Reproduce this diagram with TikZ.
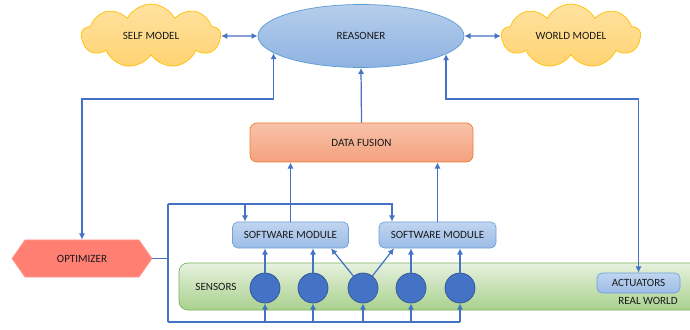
\documentclass[tikz,border=0pt]{standalone}
\usepackage{fontspec}
\setmainfont{Carlito}
\definecolor{lnblue}{HTML}{4472C4}
\definecolor{circedge}{HTML}{2F5597}
\definecolor{cloudedge}{HTML}{FFC000}
\definecolor{cloudtop}{HTML}{FFE2A0}
\definecolor{cloudbot}{HTML}{FFD372}
\definecolor{reastop}{HTML}{B6CEEB}
\definecolor{reasbot}{HTML}{8EB3E2}
\definecolor{reasedge}{HTML}{5B9BD5}
\definecolor{fustop}{HTML}{F8C2AA}
\definecolor{fusbot}{HTML}{F4A17E}
\definecolor{fusedge}{HTML}{ED7D31}
\definecolor{optfill}{HTML}{FF7F73}
\definecolor{optedge}{HTML}{FF9A90}
\definecolor{smtop}{HTML}{C0D5F0}
\definecolor{smbot}{HTML}{9CBCE6}
\definecolor{smedge}{HTML}{6FA0D8}
\definecolor{rwtop}{HTML}{E6F1DF}
\definecolor{rwbot}{HTML}{A9D18E}
\definecolor{rwedge}{HTML}{7BB35A}
\definecolor{txt}{HTML}{1A1A1A}
\usetikzlibrary{arrows.meta,positioning,shapes.symbols,shapes.geometric}

\begin{document}
\begin{tikzpicture}[font=\fontsize{6.3}{7.5}\selectfont,text=txt,
    link/.style={draw=lnblue,line width=0.7pt,-{Latex[length=3.5pt,width=3.5pt]}},
    twolink/.style={link,{Latex[length=3.5pt,width=3.5pt]}-{Latex[length=3.5pt,width=3.5pt]}},
    wire/.style={draw=lnblue,line width=0.7pt},
    model/.style={cloud,cloud puffs=9,cloud puff arc=125,cloud ignores aspect,
        draw=cloudedge,top color=cloudtop,bottom color=cloudbot,
        minimum width=2.78cm,minimum height=1.28cm},
    module/.style={draw=smedge,top color=smtop,bottom color=smbot,rounded corners=3pt,
        minimum width=2.32cm,minimum height=0.52cm},
    sensor/.style={circle,draw=circedge,fill=lnblue,minimum size=0.6cm,inner sep=0pt}]
  \useasboundingbox (0,0) rectangle (13.8,6.58);
  % Top row
  \node[model] (self) at (3.02,5.86) {SELF MODEL};
  \node[ellipse,draw=reasedge,top color=reastop,bottom color=reasbot,
        minimum width=4.12cm,minimum height=1.26cm] (reasoner) at (7.22,5.86) {REASONER};
  \node[model] (world) at (11.42,5.86) {WORLD MODEL};
  % Data fusion
  \node[draw=fusedge,top color=fustop,bottom color=fusbot,rounded corners=4pt,
        minimum width=4.46cm,minimum height=0.78cm] (fusion) at (7.23,3.73) {DATA FUSION};
  % Optimizer
  \node[signal,signal to=west and east,signal pointer angle=110,draw=optedge,fill=optfill,
        minimum width=2.8cm,minimum height=0.74cm,inner xsep=0pt] (optimizer) at (1.64,1.41) {OPTIMIZER};
  % Real world bar
  \node[draw=rwedge,top color=rwtop,bottom color=rwbot,rounded corners=5pt,
        minimum width=10.42cm,minimum height=0.94cm] (world bar) at (8.79,0.85) {};
  \node (sensors) at (4.32,0.84) {SENSORS};
  \node[module,minimum width=1.66cm,minimum height=0.40cm] (actuators) at (12.77,0.92) {ACTUATORS};
  \node (real) at (12.96,0.56) {REAL WORLD};
  % Software modules
  \node[module] (sm1) at (5.81,1.88) {SOFTWARE MODULE};
  \node[module,minimum width=2.34cm] (sm2) at (8.75,1.88) {SOFTWARE MODULE};
  % Sensors
  \foreach \i/\x in {1/5.30,2/6.26,3/7.26,4/8.22,5/9.20}
    \node[sensor] (s\i) at (\x,0.82) {};

  % Models <-> reasoner
  \draw[twolink] (self.east) -- (reasoner.west);
  \draw[twolink] (world.west) -- (reasoner.east);
  \draw[link] (fusion.north) -- (reasoner.south);
  \draw[link] (sm1.north) -- (sm1.north |- fusion.south);
  \draw[link] (sm2.north) -- (sm2.north |- fusion.south);
  % Feedback lines
  \coordinate (fbl) at (1.64,4.60);
  \coordinate (fbr) at (12.77,4.60);
  \draw[twolink] (reasoner.191.8) |- (fbl) -- (optimizer.north);
  \draw[twolink] (reasoner.348.2) |- (fbr) -- (actuators.north);
  % Optimizer bus
  \coordinate (busT) at (3.36,2.50);
  \coordinate (busB) at (3.36,0.14);
  \coordinate (in1) at ([xshift=-0.91cm]sm1.north);
  \coordinate (in2) at ([xshift=-0.91cm]sm2.north);
  \draw[wire] (optimizer.east) -- (optimizer.east -| busT);
  \draw[wire] (busB) -- (busT);
  \draw[link] (busT) -| (in2);
  \draw[link] (in1 |- busT) -- (in1);
  \draw[wire] (busB) -- (busB -| s5);
  \foreach \i in {1,...,5}
    \draw[link] (busB -| s\i) -- (s\i.south);
  % Sensors -> modules
  \draw[link] (s1.north) -- (s1 |- sm1.south);
  \draw[link] (s2.north) -- (s2 |- sm1.south);
  \draw[link] (s3) -- ([xshift=0.81cm]sm1.south);
  \draw[link] (s3) -- ([xshift=-0.87cm]sm2.south);
  \draw[link] (s4.north) -- (s4 |- sm2.south);
  \draw[link] (s5.north) -- (s5 |- sm2.south);
\end{tikzpicture}
\end{document}
